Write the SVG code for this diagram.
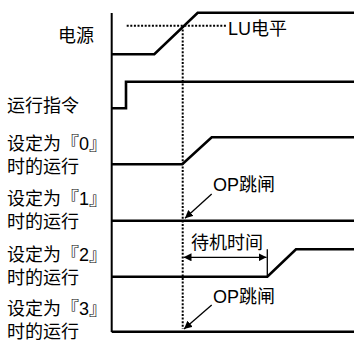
<svg xmlns="http://www.w3.org/2000/svg" width="354" height="340" viewBox="0 0 354 340">
<style>
.t{font-family:"Liberation Sans","Noto Sans CJK SC",sans-serif;font-size:18px;fill:#000}
.s{fill:none;stroke:#000;stroke-width:2.6;stroke-linejoin:miter}
.ax{fill:none;stroke:#000;stroke-width:2}
.d{fill:none;stroke:#000;stroke-width:2;stroke-dasharray:2 1.6}
.a{fill:none;stroke:#000;stroke-width:1.3}
</style>
<defs>
<marker id="ah" viewBox="0 0 10 10" refX="10" refY="5" markerWidth="8" markerHeight="8" markerUnits="userSpaceOnUse" orient="auto-start-reverse">
<path d="M0,0 L10,5 L0,10 z" fill="#000"/>
</marker>
</defs>
<g id="labels">
<text class="t" x="58" y="41.5">电源</text>
<text class="t" x="7" y="111.5">运行指令</text>
<text class="t" x="7" y="150">设定为『0』</text>
<text class="t" x="7" y="173">时的运行</text>
<text class="t" x="7" y="205">设定为『1』</text>
<text class="t" x="7" y="228">时的运行</text>
<text class="t" x="7" y="261">设定为『2』</text>
<text class="t" x="7" y="284">时的运行</text>
<text class="t" x="7" y="314.5">设定为『3』</text>
<text class="t" x="7" y="337.5">时的运行</text>
</g>
<g id="axis"><path class="ax" d="M111.7,13 V332"/></g>
<g id="power">
<path class="s" d="M111.7,54.3 H154.3 L197.7,12.7 H354"/>
</g>
<g id="lu">
<path class="d" d="M126.7,25.7 H226"/>
<text class="t" x="228" y="35">LU电平</text>
</g>
<g id="run"><path class="s" d="M111.7,108.3 H126 V81.7 H354"/></g>
<g id="sig0"><path class="s" d="M111.7,164.3 H182.3 L211.7,137.3 H354"/></g>
<g id="sig1">
<path class="s" d="M111.7,220.7 H354"/>
<text class="t" x="213" y="190.5">OP跳闸</text>
</g>
<g id="sig2">
<path class="s" d="M111.7,276.7 H267.3 L296,249.3 H354"/>
<path class="a" d="M267.3,249.3 V276.7"/>
<text class="t" x="191" y="249">待机时间</text>
</g>
<g id="sig3">
<path class="s" d="M111.7,331.7 H354"/>
<text class="t" x="213" y="302.5">OP跳闸</text>
</g>
<g id="connectors">
<path class="d" d="M182.7,26 V329"/>
<path class="a" d="M211.7,194 L185,218.3" marker-end="url(#ah)"/>
<path class="a" d="M211.7,305 L184,329" marker-end="url(#ah)"/>
<path class="a" d="M183.5,257.3 H266.5" marker-start="url(#ah)" marker-end="url(#ah)"/>
</g>
</svg>
